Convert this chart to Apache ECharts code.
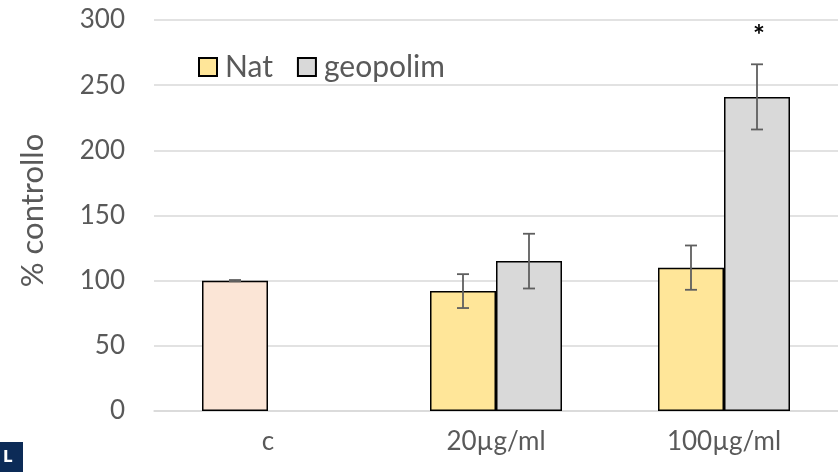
<!DOCTYPE html>
<html>
<head>
<meta charset="utf-8">
<script src="https://cdn.jsdelivr.net/npm/echarts@6/dist/echarts.min.js"></script>
<style>
  html, body { margin: 0; padding: 0; background: #fff; }
  #chart { width: 838px; height: 472px; }
</style>
</head>
<body>
<div id="chart"></div>
<script>
// Treatment groups on the x axis
const categories = ['c', '20µg/ml', '100µg/ml'];
// Mean response (% of control) and error for each series
const natValues = [100, 92, 110];
const natErrors = [0.5, 13, 17];
const geoValues = [null, 115, 241];
const geoErrors = [null, 21, 25];
// Significance marks above the geopolim bars
const geoMarks = ['', '', '*'];
// Y axis ticks
const yMin = 0, yMax = 300, yStep = 50;

const FONT = 'Lato';
const TEXT = '#595959';
const BAR_W = 66;

function errorSeries(name, values, errors, offset, marks) {
  const data = values.map((v, i) => [i, v, errors[i], marks ? marks[i] : '']);
  return {
    type: 'custom',
    name: name + '-err',
    z: 5,
    silent: true,
    data: data.filter(d => d[1] != null),
    renderItem: function (params, api) {
      const i = api.value(0), v = api.value(1), e = api.value(2);
      const mark = data.find(d => d[0] === i)[3];
      const top = api.coord([i, v + e]);
      const bot = api.coord([i, v - e]);
      const x = top[0] + offset;
      const style = { stroke: '#5f5f5f', lineWidth: 1.8 };
      const children = [
        { type: 'line', shape: { x1: x, y1: top[1], x2: x, y2: bot[1] }, style: style },
        { type: 'line', shape: { x1: x - 6, y1: top[1], x2: x + 6, y2: top[1] }, style: style },
        { type: 'line', shape: { x1: x - 6, y1: bot[1], x2: x + 6, y2: bot[1] }, style: style }
      ];
      if (mark) {
        children.push({
          type: 'text',
          style: {
            text: mark, x: x + 2, y: top[1] - 28, align: 'center', verticalAlign: 'middle',
            fontFamily: FONT, fontSize: 28, fontWeight: 'bold', fill: '#000'
          }
        });
      }
      return { type: 'group', children: children };
    }
  };
}

const chart = echarts.init(document.getElementById('chart'));
chart.setOption({
  animation: false,
  textStyle: { fontFamily: FONT },
  grid: { left: 154, top: 20, width: 690, bottom: 61, containLabel: false },
  legend: {
    left: 193, top: 47,
    itemWidth: 18, itemHeight: 18, itemGap: 24,
    textStyle: { fontFamily: FONT, fontSize: 30, color: TEXT, padding: [0, 0, 0, 3] },
    data: [
      { name: 'Nat', icon: 'rect' },
      { name: 'geopolim', icon: 'rect' }
    ]
  },
  xAxis: {
    type: 'category',
    data: categories,
    axisTick: { show: false },
    axisLine: { lineStyle: { color: '#d9d9d9', width: 1.5 } },
    axisLabel: { fontFamily: FONT, fontSize: 26, color: TEXT, margin: 18 }
  },
  yAxis: {
    type: 'value',
    min: yMin, max: yMax, interval: yStep,
    name: '% controllo',
    nameLocation: 'middle',
    nameGap: 106,
    nameTextStyle: { fontFamily: FONT, fontSize: 31, color: TEXT, padding: [0, 0, 0, 10] },
    axisLine: { show: false },
    axisTick: { show: false },
    axisLabel: { fontFamily: FONT, fontSize: 26, color: TEXT, margin: 29 },
    splitLine: { lineStyle: { color: '#d9d9d9', width: 1.5 } }
  },
  series: [
    {
      name: 'Nat', type: 'bar', barWidth: BAR_W, barGap: '0%',
      itemStyle: { color: '#ffe699', borderColor: '#000', borderWidth: 1.5 },
      data: natValues.map((v, i) => i === 0
        ? { value: v, itemStyle: { color: '#fbe5d6' } }
        : v)
    },
    {
      name: 'geopolim', type: 'bar', barWidth: BAR_W, barGap: '0%',
      itemStyle: { color: '#d9d9d9', borderColor: '#000', borderWidth: 1.5 },
      data: geoValues
    },
    errorSeries('Nat', natValues, natErrors, -BAR_W / 2),
    errorSeries('geopolim', geoValues, geoErrors, BAR_W / 2, geoMarks)
  ],
  graphic: [
    { type: 'rect', left: 0, top: 442, shape: { width: 23, height: 30 }, style: { fill: '#0c2b57' } },
    { type: 'text', left: 3, top: 451, style: { text: 'L', fontFamily: 'DejaVu Sans', fontWeight: 'bold', fontSize: 15, fill: '#fff' } }
  ]
});
</script>
</body>
</html>
